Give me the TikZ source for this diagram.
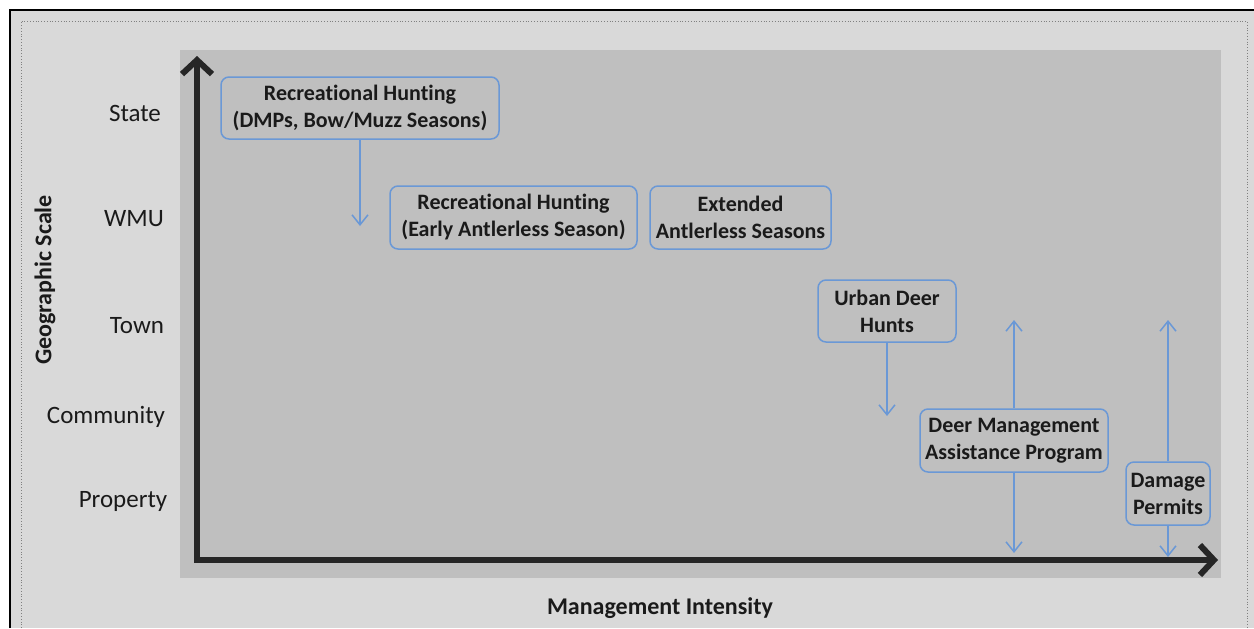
\documentclass[tikz,border=0pt]{standalone}
\usepackage{fontspec}
\setmainfont{Carlito}[Ligatures={NoCommon}]
\usetikzlibrary{arrows.meta}

\definecolor{boxblue}{HTML}{6A98D6}
\definecolor{axisgray}{HTML}{262626}
\definecolor{plotgray}{HTML}{BFBFBF}
\definecolor{framegray}{HTML}{D9D9D9}
\definecolor{textdark}{HTML}{1A1A1A}

\tikzset{
  stagebox/.style={draw=boxblue, line width=0.75pt, rounded corners=4pt, align=center,
    text=textdark, font=\bfseries\fontsize{11}{13.5}\selectfont, inner sep=0pt},
  conn/.style={draw=boxblue, line width=0.75pt, -{Straight Barb[length=5pt,width=8pt]}},
  axis/.style={draw=axisgray, line width=3pt, line join=miter,
    {Straight Barb[length=7pt,width=15pt]}-{Straight Barb[length=7pt,width=15pt]}},
  scalelabel/.style={text=textdark, font=\fontsize{12.5}{14}\selectfont},
  axistitle/.style={text=textdark, font=\bfseries\fontsize{12}{14}\selectfont},
}

\begin{document}
\begin{tikzpicture}[x=0.5pt, y=-0.5pt]
    \useasboundingbox (0,0) rectangle (1254,628);

    % Background, frame and plot area
    \fill[white] (0,0) rectangle (1254,628);
    \fill[framegray] (10,10) rectangle (1254,628);
    \draw[black, line width=1pt] (10,628) -- (10,10) -- (1254,10);
    \draw[gray, line width=0.4pt, densely dotted] (21,628) -- (21,21) -- (1247,21) -- (1247,628);
    \fill[plotgray] (180,50) rectangle (1221,578);

    % Axes
    \coordinate (origin) at (197,560);
    \coordinate (ytip) at (197,56);
    \coordinate (xtip) at (1218,560);
    \draw[axis] (ytip) -- (origin) -- (xtip);

    % Axis titles
    \node[axistitle] (xtitle) at (660,608) {Management Intensity};
    \node[axistitle, rotate=90] (ytitle) at (45,280) {Geographic Scale};

    % Scale labels on the vertical axis
    \foreach \x/\y/\ytext in {135/113/State, 134/219/WMU, 137/326/Town, 106/417/Community, 123/501/Property} {
        \node[scalelabel] (lbl\ytext) at (\x,\y) {\ytext};
    }

    % Management options
    \node[stagebox, minimum width=139pt, minimum height=31pt] (rhstate) at (360,108)
        {Recreational Hunting\\(DMPs, Bow/Muzz Seasons)};
    \node[stagebox, minimum width=123.5pt, minimum height=31.5pt] (rhearly) at (513.5,217.5)
        {Recreational Hunting\\(Early Antlerless Season)};
    \node[stagebox, minimum width=90.5pt, minimum height=31.5pt] (extended) at (740.5,217.5)
        {Extended\\Antlerless Seasons};
    \node[stagebox, minimum width=69pt, minimum height=31pt] (urban) at (887,311)
        {Urban Deer\\Hunts};
    \node[stagebox, minimum width=94pt, minimum height=31.5pt] (dmap) at (1014,440.5)
        {Deer Management\\Assistance Program};
    \node[stagebox, minimum width=42pt, minimum height=31.5pt] (damage) at (1168,493.5)
        {Damage\\Permits};

    % Range arrows
    \coordinate (rhstateend) at (360,226);
    \coordinate (urbanend) at (887,416);
    \coordinate (dmaptop) at (1014,320);
    \coordinate (dmapbot) at (1014,553);
    \coordinate (damagetop) at (1168,320);
    \coordinate (damagebot) at (1168,557);
    \draw[conn] (rhstate.south) -- (rhstateend);
    \draw[conn] (urban.south) -- (urbanend);
    \draw[conn] (dmap.north) -- (dmaptop);
    \draw[conn] (dmap.south) -- (dmapbot);
    \draw[conn] (damage.north) -- (damagetop);
    \draw[conn] (damage.south) -- (damagebot);
\end{tikzpicture}
\end{document}
